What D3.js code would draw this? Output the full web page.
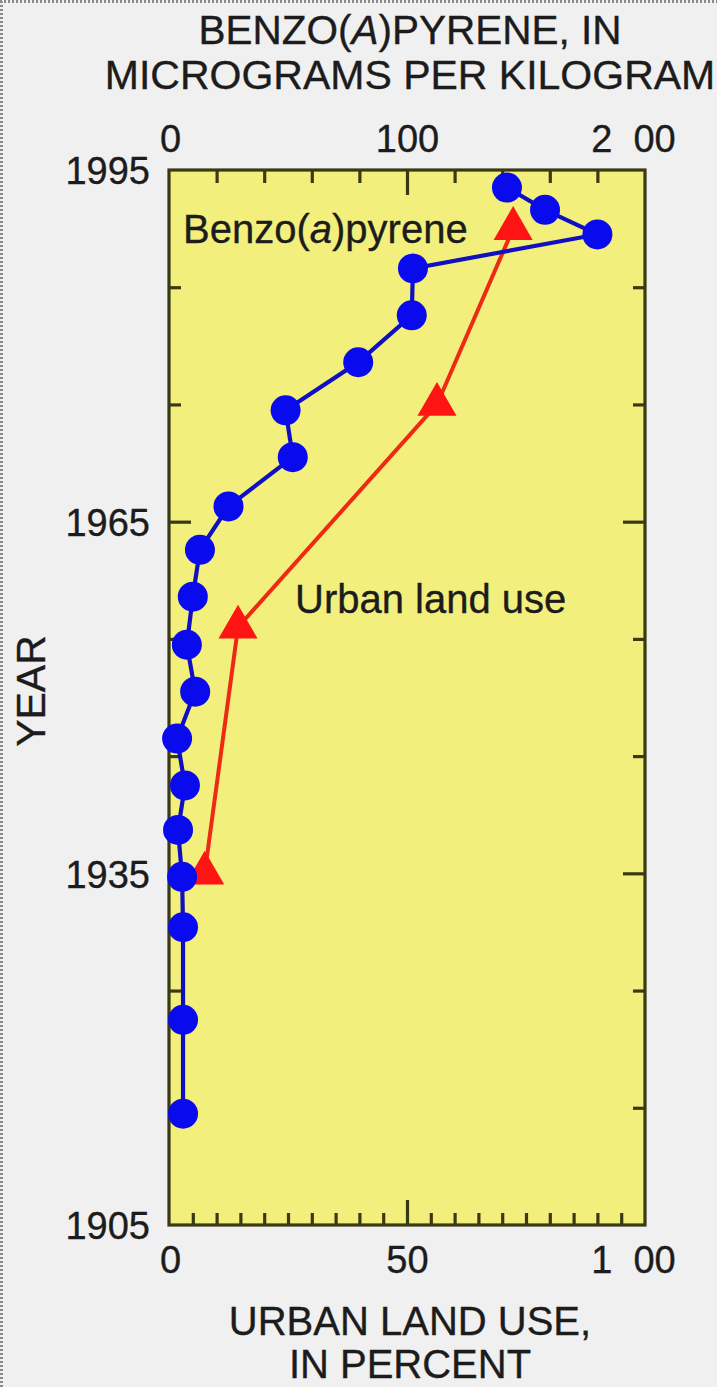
<!DOCTYPE html>
<html>
<head>
<meta charset="utf-8">
<script src="https://cdn.jsdelivr.net/npm/d3@7"></script>
<style>
  html, body { margin: 0; padding: 0; background: #f0f0f0; }
  svg { display: block; }
  text { font-family: "Liberation Sans", Arial, Helvetica, sans-serif; fill: #1c1c1c; stroke: #1c1c1c; stroke-width: 0.35px; }
  .pre { white-space: pre; }
</style>
</head>
<body>
<svg id="chart" width="717" height="1387"></svg>
<script>
// Benzo(a)pyrene concentrations in the sediment core, by deposition year
const bapYears  = [1993.5, 1991.6, 1989.5, 1986.6, 1982.6, 1978.6, 1974.5, 1970.5, 1966.3, 1962.6,
                   1958.6, 1954.5, 1950.5, 1946.5, 1942.5, 1938.7, 1934.7, 1930.4, 1922.5, 1914.5];
const bapValues = [142, 158, 180, 102.5, 102, 79.5, 49, 52, 25, 13,
                   10, 7.5, 11, 3.4, 6.7, 3.8, 5.5, 5.9, 5.9, 5.9];

// Urban land use in the watershed, percent
const urbanYears  = [1935, 1956, 1975, 1990];
const urbanValues = [7.5, 14.5, 56.3, 72.3];

// Axis ticks
const yearTicks      = [1905, 1935, 1965, 1995];
const yearMinorTicks = [1915, 1925, 1945, 1955, 1975, 1985];
const bapTickLabels  = [0, 100, 200];
const bapMinorTicks  = [20, 40, 60, 80, 120, 140, 160, 180];
const urbanTickLabels = [0, 50, 100];
const urbanMinorTicks = [5, 10, 15, 20, 25, 30, 35, 40, 45, 55, 60, 65, 70, 75, 80, 85, 90, 95];

const svg = d3.select("#chart");
const W = 717, H = 1387;
const plot = { left: 169, right: 645, top: 170, bottom: 1225 };

const y = d3.scaleLinear().domain([1905, 1995]).range([plot.bottom, plot.top]);
const xBap = d3.scaleLinear().domain([0, 200]).range([plot.left, plot.right]);
const xUrban = d3.scaleLinear().domain([0, 100]).range([plot.left, plot.right]);

const frameColor = "#3a3a12";

// faint dashed page edge
svg.append("path")
  .attr("d", `M1.5,${H} V1.5 H${W}`)
  .attr("fill", "none").attr("stroke", "#8a8a8a")
  .attr("stroke-width", 3).attr("stroke-dasharray", "2,2");

// plot background
svg.append("rect")
  .attr("x", plot.left).attr("y", plot.top)
  .attr("width", plot.right - plot.left).attr("height", plot.bottom - plot.top)
  .attr("fill", "#f3ef7d");

// tick marks pointing into the plot
function ticks(axis, translate, values, size) {
  const g = svg.append("g").attr("transform", translate)
    .call(axis.tickValues(values).tickSizeInner(-size).tickSizeOuter(0).tickFormat(""));
  g.select(".domain").remove();
  g.selectAll("line").attr("stroke", frameColor).attr("stroke-width", 3.2);
}
ticks(d3.axisLeft(y), `translate(${plot.left},0)`, yearMinorTicks, 12);
ticks(d3.axisLeft(y), `translate(${plot.left},0)`, [1935, 1965], 22);
ticks(d3.axisRight(y), `translate(${plot.right},0)`, yearMinorTicks, 12);
ticks(d3.axisRight(y), `translate(${plot.right},0)`, [1935, 1965], 22);
ticks(d3.axisTop(xBap), `translate(0,${plot.top})`, bapMinorTicks, 13);
ticks(d3.axisTop(xBap), `translate(0,${plot.top})`, [100], 25);
ticks(d3.axisBottom(xUrban), `translate(0,${plot.bottom})`, urbanMinorTicks, 12);
ticks(d3.axisBottom(xUrban), `translate(0,${plot.bottom})`, [50], 25);

// frame
svg.append("rect")
  .attr("x", plot.left).attr("y", plot.top)
  .attr("width", plot.right - plot.left).attr("height", plot.bottom - plot.top)
  .attr("fill", "none").attr("stroke", frameColor).attr("stroke-width", 3.2);

// tick labels; the end label of each value axis is typeset with a gap after its first digit
function labels(axis, translate, values, fs, tweak) {
  const last = values[values.length - 1];
  const fmt = d => (d === last && String(d).length === 3)
    ? String(d)[0] + "  " + String(d).slice(1) : String(d);
  const g = svg.append("g").attr("transform", translate)
    .call(axis.tickValues(values).tickSize(0).tickPadding(0).tickFormat(fmt));
  g.select(".domain").remove();
  g.selectAll("line").remove();
  g.selectAll("text")
    .attr("class", "pre").attr("xml:space", "preserve")
    .style("font-family", '"Liberation Sans", Arial, sans-serif')
    .style("font-size", fs + "px").attr("fill", "#1c1c1c");
  if (tweak) tweak(g, last);
}
labels(d3.axisLeft(y), `translate(${plot.left - 19},0)`, yearTicks, 38,
  g => g.selectAll("text").attr("dy", "0.36em"));
labels(d3.axisTop(xBap), `translate(0,${plot.top - 18})`, bapTickLabels, 38,
  (g, last) => g.selectAll("text").attr("dy", 0)
        .attr("dx", d => d === last ? -12 : (d === 0 ? 1 : 0)));
labels(d3.axisBottom(xUrban), `translate(0,${plot.bottom + 48})`, urbanTickLabels, 38,
  (g, last) => g.selectAll("text").attr("dy", 0)
        .attr("dx", d => d === last ? -12 : (d === 0 ? 1 : 0)));

// axis titles
const cx = (plot.left + plot.right) / 2 + 3;
const topTitle = svg.append("text").attr("x", cx).attr("y", 44)
  .attr("text-anchor", "middle").style("font-size", "40.5px");
topTitle.append("tspan").text("BENZO(");
topTitle.append("tspan").style("font-style", "italic").text("A");
topTitle.append("tspan").text(")PYRENE, IN");
svg.append("text").attr("x", cx).attr("y", 89)
  .attr("text-anchor", "middle").style("font-size", "41px")
  .text("MICROGRAMS PER KILOGRAM");

svg.append("text").attr("x", cx).attr("y", 1335)
  .attr("text-anchor", "middle").style("font-size", "40px")
  .text("URBAN LAND USE,");
svg.append("text").attr("x", cx).attr("y", 1378)
  .attr("text-anchor", "middle").style("font-size", "40px")
  .text("IN PERCENT");

svg.append("text")
  .attr("transform", `translate(45,${691}) rotate(-90)`)
  .attr("text-anchor", "middle").style("font-size", "41px")
  .text("YEAR");

// urban land use series
const urbanData = urbanYears.map((yr, i) => ({ yr, v: urbanValues[i] }));
svg.append("path")
  .datum(urbanData)
  .attr("fill", "none").attr("stroke", "#ee2a14").attr("stroke-width", 4)
  .attr("d", d3.line().x(d => xUrban(d.v)).y(d => y(d.yr)));
svg.selectAll(".tri").data(urbanData).enter().append("path")
  .attr("class", "tri")
  .attr("transform", d => `translate(${xUrban(d.v)},${y(d.yr)})`)
  .attr("d", d3.symbol().type(d3.symbolTriangle).size(660)())
  .attr("fill", "#ff1414");

// benzo(a)pyrene series
const bapData = bapYears.map((yr, i) => ({ yr, v: bapValues[i] }));
svg.append("path")
  .datum(bapData)
  .attr("fill", "none").attr("stroke", "#1010c0").attr("stroke-width", 4.2)
  .attr("d", d3.line().x(d => xBap(d.v)).y(d => y(d.yr)));
svg.selectAll(".dot").data(bapData).enter().append("circle")
  .attr("class", "dot")
  .attr("cx", d => xBap(d.v)).attr("cy", d => y(d.yr)).attr("r", 15)
  .attr("fill", "#0a0aee");

// series labels
const bl = svg.append("text").attr("x", 183).attr("y", 243).style("font-size", "40px").attr("fill", "#2a2a10");
bl.append("tspan").text("Benzo(");
bl.append("tspan").style("font-style", "italic").text("a");
bl.append("tspan").text(")pyrene");
svg.append("text").attr("x", 295).attr("y", 613).style("font-size", "40px").attr("fill", "#2a2a10")
  .text("Urban land use");
</script>
</body>
</html>
